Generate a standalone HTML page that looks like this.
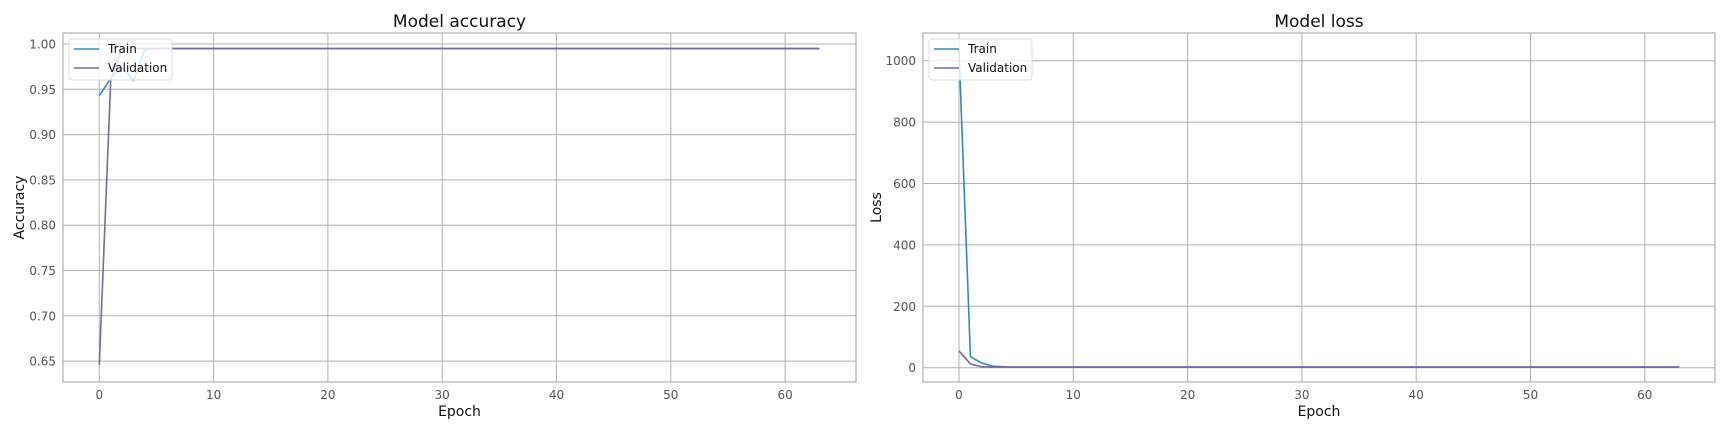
<!DOCTYPE html>
<html><head><meta charset="utf-8"><style>
body{margin:0;background:#fff;}
svg{display:block;font-family:"DejaVu Sans","Liberation Sans",sans-serif;}
</style></head><body>
<svg id="fig" width="1728" height="432" xmlns="http://www.w3.org/2000/svg"></svg>
<script>
const epochs = Array.from({length:64},(_,i)=>i);
const accTrainHead = [0.943,0.962,0.974,0.960,0.994];
const accValHead = [0.646,0.960,0.995];
const accPlateau = 0.995;
const lossTrainHead = [1035,36,15,5,3];
const lossValHead = [55,12,3];
const lossPlateau = 2;
const accTicks = [0.65,0.70,0.75,0.80,0.85,0.90,0.95,1.00];
const lossTicks = [0,200,400,600,800,1000];
const xTicks = [0,10,20,30,40,50,60];

function fill(head, plat){return epochs.map(i=> i<head.length?head[i]:plat);}
const accTrain=fill(accTrainHead,accPlateau), accVal=fill(accValHead,accPlateau);
const lossTrain=fill(lossTrainHead,lossPlateau), lossVal=fill(lossValHead,lossPlateau);

const NS="http://www.w3.org/2000/svg";
const svg=document.getElementById('fig');
function el(tag,attrs,parent){const e=document.createElementNS(NS,tag);for(const k in attrs)e.setAttribute(k,attrs[k]);(parent||svg).appendChild(e);return e;}

function panel(o){
  const g=el('g',{});
  
  
  const X=v=>o.x0+o.sx*v;
  const Y=v=>o.yA+(v-o.vA)*(o.yB-o.yA)/(o.vB-o.vA);
  xTicks.forEach(t=>{
    const l=el('line',{x1:X(t),x2:X(t),y1:o.top,y2:o.bot,stroke:'#b0b0b0','stroke-width':1},g);
    
    
    const tx=el('text',{x:X(t),y:o.bot+17,'text-anchor':'middle','font-size':12,fill:'#555'},g);
    tx.textContent=t;
    
    
  });
  o.ticks.forEach(t=>{
    const l=el('line',{x1:o.left,x2:o.right,y1:Y(t),y2:Y(t),stroke:'#b0b0b0','stroke-width':1},g);
    
    
    const tx=el('text',{x:o.left-7,y:Y(t)+4.5,'text-anchor':'end','font-size':12,fill:'#555'},g);
    tx.textContent=o.fmt(t);
    
    
  });
  const fr=el('rect',{x:o.left,y:o.top,width:o.right-o.left,height:o.bot-o.top,fill:'none',stroke:'#b0b0b0','stroke-width':1.2},g);
  
  
  [[o.train,'#348ABD','train-line'],[o.val,'#7A68A6','validation-line']].forEach(([d,c,n])=>{
    const p=el('polyline',{points:d.map((v,i)=>X(epochs[i])+','+Y(v)).join(' '),fill:'none',stroke:c,'stroke-width':1.6},g);
    
    
  });
  const lg=el('g',{},g);
  
  
  el('rect',{x:o.left+6,y:39,width:103,height:41,rx:3,fill:'#fff','fill-opacity':0.8,stroke:'#ddd'},lg);
  el('line',{x1:o.left+11,x2:o.left+36,y1:49,y2:49,stroke:'#348ABD','stroke-width':1.6},lg);
  el('line',{x1:o.left+11,x2:o.left+36,y1:68,y2:68,stroke:'#7A68A6','stroke-width':1.6},lg);
  const t1=el('text',{x:o.left+45,y:53,'font-size':12,fill:'#111'},lg);t1.textContent='Train';
  
  
  const t2=el('text',{x:o.left+45,y:72,'font-size':12,fill:'#111'},lg);t2.textContent='Validation';
  
  
  const ti=el('text',{x:(o.left+o.right)/2,y:27,'text-anchor':'middle','font-size':17,fill:'#111'},g);
  ti.textContent=o.title;
  
  
  const xl=el('text',{x:(o.left+o.right)/2,y:416,'text-anchor':'middle','font-size':14,fill:'#111'},g);
  xl.textContent='Epoch';
  
  
  const cy=(o.top+o.bot)/2;
  const yl=el('text',{x:o.ylx,y:cy,'text-anchor':'middle','font-size':14,fill:'#111',transform:`rotate(-90 ${o.ylx} ${cy})`},g);
  yl.textContent=o.ylabel;
  
  
}
panel({name:'accuracy-chart',left:63,right:856,top:33,bot:382,x0:99.3,sx:11.43,yA:44,vA:1.0,yB:89.3,vB:0.95,
  ticks:accTicks,fmt:t=>t.toFixed(2),train:accTrain,val:accVal,title:'Model accuracy',ylabel:'Accuracy',ylx:24});
panel({name:'loss-chart',left:923,right:1715,top:33,bot:382,x0:959,sx:11.43,yA:367.7,vA:0,yB:60.7,vB:1000,
  ticks:lossTicks,fmt:t=>String(t),train:lossTrain,val:lossVal,title:'Model loss',ylabel:'Loss',ylx:881});
</script>
</body></html>
